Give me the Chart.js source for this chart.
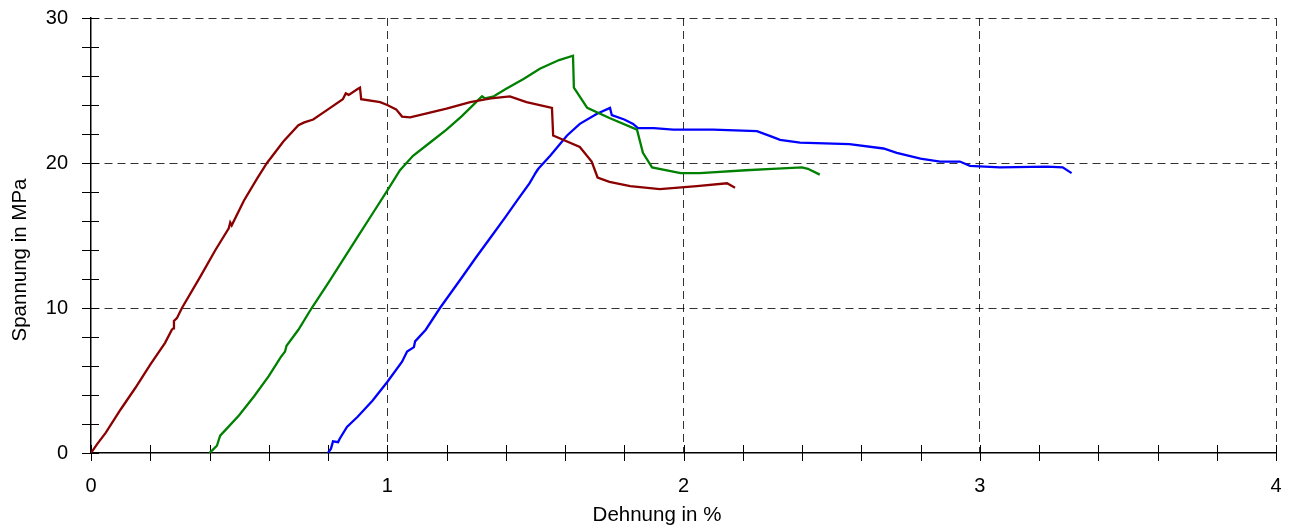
<!DOCTYPE html>
<html>
<head>
<meta charset="utf-8">
<script src="https://cdn.jsdelivr.net/npm/chart.js@4"></script>
<style>
  body { margin: 0; background: #fff; }
  canvas { display: block; }
</style>
</head>
<body>
<canvas id="chart" width="1291" height="527"></canvas>
<script>
// Dehnung (%) / Spannung (MPa) per Probe
const strainRed = [0, 0.02, 0.05, 0.1, 0.15, 0.2, 0.25, 0.273, 0.278, 0.28, 0.29, 0.307, 0.37, 0.42, 0.465, 0.47, 0.475, 0.516, 0.56, 0.594, 0.65, 0.70, 0.72, 0.75, 0.80, 0.85, 0.86, 0.87, 0.90, 0.908, 0.912, 0.976, 1.0, 1.03, 1.05, 1.077, 1.13, 1.20, 1.28, 1.35, 1.414, 1.47, 1.556, 1.56, 1.65, 1.69, 1.71, 1.75, 1.82, 1.92, 2.045, 2.147, 2.174];
const stressRed = [0, 0.6, 1.4, 3.0, 4.5, 6.1, 7.6, 8.5, 8.6, 9.1, 9.3, 10.0, 12.2, 14.0, 15.5, 15.9, 15.7, 17.4, 18.9, 20.0, 21.5, 22.6, 22.8, 23.0, 23.7, 24.4, 24.8, 24.7, 25.1, 25.2, 24.4, 24.2, 24.0, 23.7, 23.2, 23.15, 23.4, 23.75, 24.2, 24.45, 24.6, 24.2, 23.8, 21.9, 21.1, 20.1, 19.0, 18.7, 18.4, 18.2, 18.4, 18.6, 18.3];

const strainGreen = [0.4, 0.41, 0.425, 0.436, 0.459, 0.5, 0.55, 0.6, 0.64, 0.655, 0.66, 0.70, 0.745, 0.80, 0.85, 0.90, 0.95, 1.0, 1.043, 1.087, 1.15, 1.20, 1.25, 1.30, 1.32, 1.33, 1.36, 1.40, 1.46, 1.515, 1.58, 1.627, 1.63, 1.675, 1.75, 1.843, 1.863, 1.894, 1.99, 2.055, 2.21, 2.30, 2.40, 2.42, 2.46];
const stressGreen = [0, 0.2, 0.5, 1.2, 1.7, 2.6, 3.9, 5.3, 6.6, 7.0, 7.4, 8.5, 10.0, 11.7, 13.3, 14.9, 16.5, 18.1, 19.5, 20.5, 21.5, 22.3, 23.2, 24.2, 24.6, 24.45, 24.6, 25.1, 25.8, 26.5, 27.1, 27.4, 25.2, 23.8, 23.1, 22.3, 20.7, 19.7, 19.3, 19.3, 19.5, 19.6, 19.7, 19.6, 19.2];

const strainBlue = [0.8, 0.81, 0.817, 0.834, 0.84, 0.864, 0.9, 0.95, 1.0, 1.05, 1.067, 1.09, 1.094, 1.13, 1.178, 1.25, 1.30, 1.35, 1.40, 1.438, 1.48, 1.506, 1.497, 1.51, 1.55, 1.607, 1.65, 1.708, 1.752, 1.758, 1.80, 1.83, 1.846, 1.90, 1.965, 2.10, 2.248, 2.30, 2.326, 2.393, 2.56, 2.675, 2.72, 2.80, 2.866, 2.933, 2.967, 3.068, 3.227, 3.28, 3.31];
const stressBlue = [0, 0.3, 0.8, 0.75, 1.0, 1.8, 2.5, 3.6, 4.9, 6.3, 7.0, 7.3, 7.7, 8.5, 10.0, 12.05, 13.5, 14.9, 16.3, 17.4, 18.6, 19.5, 19.2, 19.6, 20.5, 21.9, 22.7, 23.4, 23.8, 23.3, 23.0, 22.7, 22.4, 22.4, 22.3, 22.3, 22.2, 21.8, 21.6, 21.4, 21.3, 21.0, 20.7, 20.3, 20.1, 20.1, 19.8, 19.7, 19.75, 19.7, 19.3];

const xTitle = 'Dehnung in %';
const yTitle = 'Spannung in MPa';

const toPoints = (xs, ys) => xs.map((x, i) => ({ x: x, y: ys[i] }));

const isMajor = (v, step) => Math.abs(v / step - Math.round(v / step)) < 1e-6;

// tick marks cross the axis line, and the axis titles sit off-centre
const axisExtras = {
  id: 'axisExtras',
  beforeDatasetsDraw(chart) {
    const ctx = chart.ctx;
    const xs = chart.scales.x, ys = chart.scales.y;
    const area = chart.chartArea;
    ctx.save();
    ctx.strokeStyle = '#000';
    ctx.lineWidth = 1;
    ctx.beginPath();
    xs.ticks.forEach(t => {
      const px = Math.round(xs.getPixelForValue(t.value)) + 0.5;
      ctx.moveTo(px, area.bottom + 8);
      ctx.lineTo(px, area.bottom - 8);
    });
    ys.ticks.forEach(t => {
      const py = Math.round(ys.getPixelForValue(t.value)) + 0.5;
      ctx.moveTo(area.left - 9, py);
      ctx.lineTo(area.left + 8, py);
    });
    ctx.stroke();
    ctx.restore();
  },
  afterDraw(chart) {
    const ctx = chart.ctx;
    ctx.save();
    ctx.fillStyle = '#000';
    ctx.font = '20.5px "Liberation Sans", Arial, sans-serif';
    ctx.textAlign = 'center';
    ctx.textBaseline = 'middle';
    ctx.fillText(xTitle, 657, 515);
    ctx.translate(20, 260);
    ctx.rotate(-Math.PI / 2);
    ctx.fillText(yTitle, 0, 0);
    ctx.restore();
  }
};

const gridColor = (step) => (c) => (c.tick && isMajor(c.tick.value, step) && c.tick.value !== 0) ? 'rgba(0,0,0,0.8)' : 'rgba(0,0,0,0)';

new Chart(document.getElementById('chart'), {
  type: 'scatter',
  data: {
    datasets: [
      { label: 'Probe 1', data: toPoints(strainRed, stressRed), borderColor: '#8b0000', backgroundColor: '#8b0000' },
      { label: 'Probe 2', data: toPoints(strainGreen, stressGreen), borderColor: '#008000', backgroundColor: '#008000' },
      { label: 'Probe 3', data: toPoints(strainBlue, stressBlue), borderColor: '#0000ff', backgroundColor: '#0000ff' }
    ]
  },
  options: {
    responsive: false,
    animation: false,
    showLine: true,
    elements: {
      point: { radius: 0, hoverRadius: 0 },
      line: { borderWidth: 2.3, tension: 0 }
    },
    layout: { padding: { top: 18, right: 15, left: 0, bottom: 0 } },
    plugins: {
      legend: { display: false },
      tooltip: { enabled: false }
    },
    scales: {
      x: {
        type: 'linear',
        min: 0,
        max: 4,
        afterFit: (s) => { s.height = 74; },
        ticks: {
          stepSize: 0.2,
          autoSkip: false,
          maxRotation: 0,
          padding: 1,
          color: '#000',
          font: { family: '"Liberation Sans", Arial, sans-serif', size: 20 },
          callback: (v) => isMajor(v, 1) ? String(Math.round(v)) : ''
        },
        grid: {
          color: gridColor(1),
          tickColor: 'rgba(0,0,0,0)',
          tickLength: 20,
          lineWidth: 1
        },
        border: { color: '#000', width: 1.5, dash: [8, 5] }
      },
      y: {
        type: 'linear',
        min: 0,
        max: 30,
        afterFit: (s) => { s.width = 91; },
        ticks: {
          stepSize: 2,
          autoSkip: false,
          padding: 1,
          color: '#000',
          font: { family: '"Liberation Sans", Arial, sans-serif', size: 20 },
          callback: (v) => isMajor(v, 10) ? String(Math.round(v)) : ''
        },
        grid: {
          color: gridColor(10),
          tickColor: 'rgba(0,0,0,0)',
          tickLength: 22,
          lineWidth: 1
        },
        border: { color: '#000', width: 1.5, dash: [8, 5] }
      }
    }
  },
  plugins: [axisExtras]
});
</script>
</body>
</html>
